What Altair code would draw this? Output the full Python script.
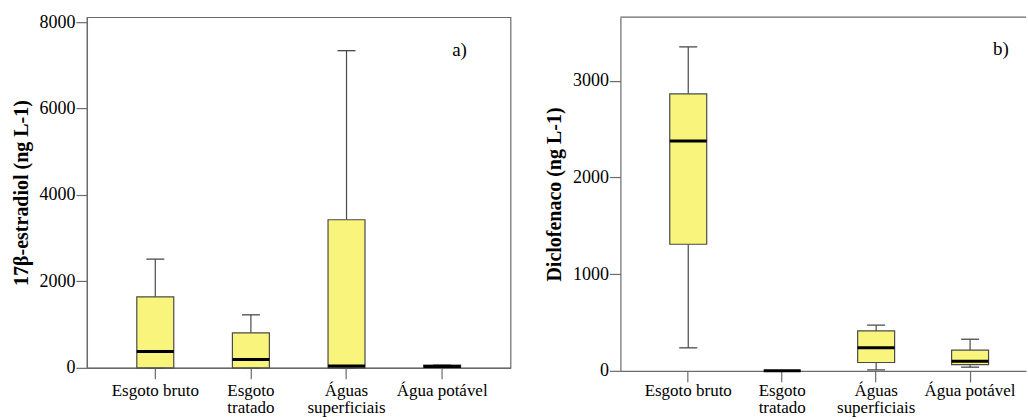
import altair as alt
import pandas as pd

categories = ["Esgoto bruto", "Esgoto\ntratado", "Águas\nsuperficiais", "Água potável"]

# a) 17β-estradiol (ng L-1)
e2_low = [0, 0, 0, 10]
e2_q1 = [0, 0, 0, 10]
e2_med = [377, 192, 40, 30]
e2_q3 = [1644, 810, 3427, 65]
e2_high = [2516, 1227, 7340, 65]

# b) Diclofenaco (ng L-1)
d_low = [238, 0, 10, 38]
d_q1 = [1309, 0, 86, 65]
d_med = [2376, 0, 238, 100]
d_q3 = [2865, 0, 413, 214]
d_high = [3350, 0, 472, 327]

FONT = "Liberation Serif"
GREY = "#6b6b6b"
BOXSTROKE = "#4a4a4a"
FILL = "#F9F57C"


def panel(low, q1, med, q3, high, ytitle, ydomain, yvalues, width, height,
          xscale, letter, lx, ly, title_pad, xlabpad, lineh, frame_top=False):
    df = pd.DataFrame({"cat": categories, "low": low, "q1": q1, "med": med,
                       "q3": q3, "high": high})
    xenc = alt.X("cat:N", sort=categories, scale=xscale, title=None,
                 axis=alt.Axis(labelAngle=0, labelFont=FONT, labelFontSize=17,
                               labelColor="black", labelLineHeight=lineh,
                               labelExpr="split(datum.label, '\\n')",
                               labelPadding=xlabpad, tickSize=11, tickColor=GREY,
                               domainColor=GREY, domainWidth=1.2, tickWidth=1.2,
                               labelLimit=300))
    yscale = alt.Scale(domain=ydomain, nice=False, zero=True)
    yaxis = alt.Axis(values=yvalues, format="d", labelFont=FONT, labelFontSize=18,
                     labelColor="black", labelPadding=1, tickSize=11, tickColor=GREY,
                     tickWidth=1.2, domainColor=GREY, domainWidth=1.2, grid=False,
                     title=ytitle, titleFont=FONT, titleFontSize=20,
                     titleFontWeight="bold", titleColor="black",
                     titlePadding=title_pad)
    base = alt.Chart(df).encode(x=xenc)
    whisk_hi = base.mark_rule(color=BOXSTROKE, strokeWidth=1.2, opacity=1).encode(
        y=alt.Y("q3:Q", scale=yscale, axis=yaxis), y2="high:Q")
    whisk_lo = base.mark_rule(color=BOXSTROKE, strokeWidth=1.2, opacity=1).encode(
        y=alt.Y("low:Q", scale=yscale, axis=yaxis), y2="q1:Q")
    cap_hi = base.mark_tick(color=BOXSTROKE, size=18, thickness=1.3, opacity=1).encode(
        y=alt.Y("high:Q", scale=yscale, axis=yaxis))
    cap_lo = base.mark_tick(color=BOXSTROKE, size=18, thickness=1.3, opacity=1).encode(
        y=alt.Y("low:Q", scale=yscale, axis=yaxis))
    box = base.mark_bar(size=37, fill=FILL, stroke=BOXSTROKE, strokeWidth=1.2,
                        opacity=1).encode(
        y=alt.Y("q1:Q", scale=yscale, axis=yaxis), y2="q3:Q")
    median = base.mark_tick(color="black", size=37, thickness=3, opacity=1).encode(
        y=alt.Y("med:Q", scale=yscale, axis=yaxis))
    lab = alt.Chart(pd.DataFrame({"t": [letter]})).mark_text(
        font=FONT, fontSize=19, color="black", align="center", baseline="middle"
    ).encode(text="t:N", x=alt.value(lx), y=alt.value(ly))
    layers = [whisk_hi, whisk_lo, cap_hi, cap_lo, box, median, lab]
    if frame_top:
        top = alt.Chart(pd.DataFrame({"a": [0]})).mark_rule(
            color=GREY, strokeWidth=1.2).encode(
            x=alt.value(0), x2=alt.value(width), y=alt.value(0))
        layers.append(top)
    ch = alt.layer(*layers).properties(width=width, height=height)
    if frame_top:
        ch = ch.properties(view=alt.ViewBackground(stroke="transparent"))
    return ch


left = panel(e2_low, e2_q1, e2_med, e2_q3, e2_high, "17β-estradiol (ng L-1)",
             [0, 8115], [0, 2000, 4000, 6000, 8000], 424, 351,
             alt.Scale(paddingInner=0, paddingOuter=0.215),
             "a)", 373, 33, 7, 4, 17)
right = panel(d_low, d_q1, d_med, d_q3, d_high, "Diclofenaco (ng L-1)",
              [0, 3657], [0, 1000, 2000, 3000], 406, 354,
              alt.Scale(paddingInner=0, paddingOuter=0.1587, align=0.7),
              "b)", 381, 32, 8, 1, 17, frame_top=True)

chart = alt.hconcat(left, right, spacing=32).resolve_scale(y="independent").properties(
    padding={"left": 11, "top": 12, "right": 0, "bottom": 0},
    background="white",
).configure_view(stroke=GREY, strokeWidth=1.2)

chart.save("out.html", embed_options={"renderer": "svg", "actions": False})
